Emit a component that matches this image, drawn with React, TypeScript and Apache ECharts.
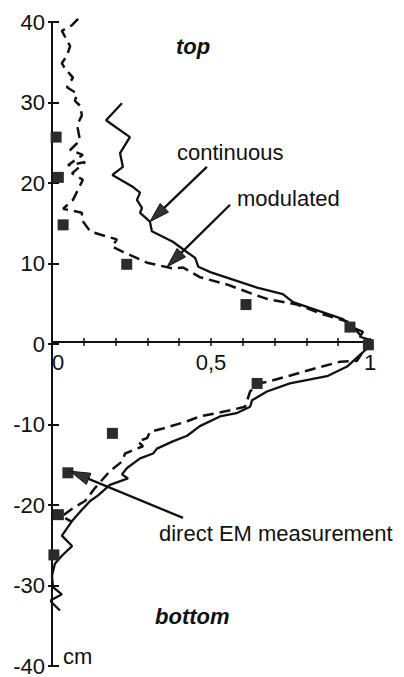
import React, { useEffect, useRef } from "react";
import * as echarts from "echarts";

// ---- data (x = relative value, y = position in cm) ----
const continuousTop: [number, number][] = [
  [0.22, 29.9], [0.17, 27.8], [0.245, 25.7], [0.214, 23.7], [0.223, 22.0], [0.19, 21.0],
  [0.255, 19.5], [0.277, 18.8], [0.267, 17.9], [0.283, 16.9], [0.277, 16.3], [0.308, 15.2],
  [0.314, 14.0], [0.38, 12.7], [0.425, 11.4], [0.45, 10.7], [0.46, 9.6], [0.5, 8.9],
  [0.645, 7.0], [0.726, 6.2], [0.758, 5.2], [0.915, 3.1], [0.937, 2.2], [0.978, 1.5],
  [0.968, 0.9], [1.01, 0.4], [1.0, -0.2],
];
const continuousBottom: [number, number][] = [
  [0.978, -1.0], [0.928, -2.8], [0.865, -4.0], [0.748, -4.9], [0.676, -5.9], [0.629, -7.0],
  [0.623, -7.8], [0.58, -8.6], [0.528, -9.0], [0.465, -10.2], [0.425, -11.4], [0.38, -12.1],
  [0.33, -13.0], [0.318, -13.6], [0.277, -14.2], [0.236, -15.4], [0.22, -16.2], [0.239, -16.7],
  [0.182, -17.5], [0.145, -18.8], [0.12, -19.5], [0.094, -20.6], [0.063, -22.0], [0.031, -23.8],
  [0.063, -25.1], [0.031, -26.3], [0.009, -27.3], [0.0, -28.8], [0.003, -30.2], [0.031, -31.1],
  [-0.006, -31.9], [0.025, -33.1],
];
const modulatedTop: [number, number][] = [
  [0.082, 40.4], [0.063, 39.6], [0.031, 38.9], [0.057, 37.0], [0.047, 35.8], [0.031, 34.9],
  [0.041, 34.2], [0.066, 33.1], [0.047, 31.9], [0.079, 31.1], [0.072, 30.2], [0.088, 29.6],
  [0.094, 28.4], [0.079, 27.2], [0.088, 25.3], [0.057, 24.1], [0.097, 23.5], [0.05, 22.2],
  [0.104, 22.6], [0.063, 21.2], [0.097, 20.4], [0.066, 17.9], [0.035, 16.8], [0.094, 16.3],
  [0.094, 15.4], [0.12, 14.0], [0.151, 13.6], [0.204, 13.0], [0.189, 12.1], [0.22, 11.5],
  [0.299, 10.1], [0.377, 9.4], [0.412, 9.5], [0.465, 8.3], [0.55, 7.4], [0.632, 6.2],
  [0.676, 5.6], [0.77, 4.9], [0.852, 3.7], [0.928, 2.8], [0.968, 1.2], [0.994, 0],
];
const modulatedBottom: [number, number][] = [
  [0.959, -2.1], [0.906, -2.2], [0.821, -3.1], [0.742, -4.0], [0.676, -4.7], [0.648, -4.9],
  [0.623, -5.9], [0.607, -7.8], [0.553, -8.3], [0.465, -9.0], [0.425, -9.6], [0.349, -10.5],
  [0.308, -10.9], [0.299, -11.7], [0.27, -12.1], [0.286, -12.7], [0.23, -13.6], [0.22, -14.6],
  [0.182, -15.8], [0.135, -17.9], [0.104, -19.5], [0.066, -20.4], [0.031, -21.4], [0.063, -22.1],
];
const directEM: [number, number][] = [
  [0.013, 25.7], [0.02, 20.7], [0.035, 14.8], [0.235, 9.9], [0.61, 4.9], [0.937, 2.1],
  [0.995, -0.1], [0.645, -4.9], [0.19, -11.1], [0.05, -16.0], [0.02, -21.2], [0.006, -26.2],
];

const xLabelValues = [0, 0.5, 1];
const xLabelTexts = ["0", "0,5", "1"];

// annotation arrows (from label to curve), in data coordinates
const arrowFrom: [number, number][] = [[0.487, 22.0], [0.56, 17.3], [0.412, -21.6]];
const arrowTo: [number, number][] = [[0.308, 15.2], [0.362, 9.6], [0.057, -15.8]];

const FONT = "'Liberation Sans', Arial, Helvetica, sans-serif";
const INK = "#111";

const GRID_TOP = 22;
const GRID_BOTTOM = 7;
const CHART_H = 677;
// x axis drawn through y = 0 (middle of the symmetric -40..40 range)
const X_AXIS_OFFSET = -(CHART_H - GRID_TOP - GRID_BOTTOM) / 2;

export default function App() {
  const ref = useRef<HTMLDivElement>(null);

  useEffect(() => {
    document.body.style.margin = "0";
    if (!ref.current) return;
    const chart = echarts.init(ref.current, null, { renderer: "svg" });

    const xFormatter = (v: number) => {
      for (let i = 0; i < xLabelValues.length; i++) {
        if (Math.abs(v - xLabelValues[i]) < 1e-9) return xLabelTexts[i];
      }
      return "";
    };

    const option: any = {
      animation: false,
      backgroundColor: "#fff",
      grid: { left: 52, right: 34, top: GRID_TOP, bottom: GRID_BOTTOM, containLabel: false },
      xAxis: [
        {
          type: "value", min: 0, max: 1, interval: 0.1, position: "bottom", offset: X_AXIS_OFFSET,
          axisLine: { show: true, onZero: false, lineStyle: { color: INK, width: 2 } },
          axisTick: { show: true, length: 4, lineStyle: { color: INK, width: 1.5 } },
          axisLabel: {
            margin: 9, fontSize: 22, fontFamily: FONT, color: INK,
            formatter: xFormatter, alignMinLabel: "left", showMinLabel: true, showMaxLabel: true,
          },
          splitLine: { show: false },
        },
        {
          type: "value", min: 0, max: 1, interval: 0.1, position: "bottom", offset: X_AXIS_OFFSET,
          axisLine: { show: false, onZero: false },
          axisTick: { show: true, inside: true, length: 4, lineStyle: { color: INK, width: 1.5 } },
          axisLabel: { show: false },
          splitLine: { show: false },
        },
      ],
      yAxis: [
        {
          type: "value", min: -40, max: 40, interval: 10, position: "left",
          axisLine: { show: true, onZero: false, lineStyle: { color: INK, width: 2 } },
          axisTick: { show: true, length: 4, lineStyle: { color: INK, width: 2 } },
          axisLabel: { margin: 7, fontSize: 22, fontFamily: FONT, color: INK },
          splitLine: { show: false },
        },
        {
          type: "value", min: -40, max: 40, interval: 10, position: "left",
          axisLine: { show: false, onZero: false },
          axisTick: { show: true, inside: true, length: 7, lineStyle: { color: INK, width: 2 } },
          axisLabel: { show: false },
          splitLine: { show: false },
        },
      ],
      series: [
        {
          name: "continuous", type: "line", xAxisIndex: 0, yAxisIndex: 0,
          data: continuousTop.concat(continuousBottom), showSymbol: false, symbol: "none",
          clip: false, lineStyle: { color: INK, width: 2.3, type: "solid" }, z: 3,
        },
        {
          name: "modulated", type: "line", xAxisIndex: 0, yAxisIndex: 0,
          data: modulatedTop.concat(modulatedBottom), showSymbol: false, symbol: "none",
          clip: false, lineStyle: { color: INK, width: 2.5, type: [11, 6] }, z: 3,
        },
        {
          name: "direct EM measurement", type: "scatter", xAxisIndex: 0, yAxisIndex: 0,
          data: directEM, symbol: "rect", symbolSize: 11, clip: false,
          itemStyle: { color: "#2b2b2b", opacity: 1 }, z: 5,
        },
      ],
    };
    chart.setOption(option);

    const graphics: any[] = [];
    const L = 20, W = 6;
    for (let i = 0; i < arrowFrom.length; i++) {
      const p0 = chart.convertToPixel({ gridIndex: 0 }, arrowFrom[i]) as number[];
      const p1 = chart.convertToPixel({ gridIndex: 0 }, arrowTo[i]) as number[];
      const dx = p1[0] - p0[0], dy = p1[1] - p0[1];
      const len = Math.sqrt(dx * dx + dy * dy);
      const ux = dx / len, uy = dy / len;
      const bx = p1[0] - ux * L, by = p1[1] - uy * L;
      graphics.push({
        type: "line", shape: { x1: p0[0], y1: p0[1], x2: bx + ux * 2, y2: by + uy * 2 },
        style: { stroke: INK, lineWidth: 2.3 }, z: 10,
      });
      graphics.push({
        type: "polygon",
        shape: { points: [[p1[0], p1[1]], [bx - uy * W, by + ux * W], [bx + uy * W, by - ux * W]] },
        style: { fill: "#333", stroke: INK, lineWidth: 1 }, z: 10,
      });
    }
    const texts: [string, number, number, boolean][] = [
      ["top", 176, 46, true],
      ["continuous", 177, 152, false],
      ["modulated", 237, 198, false],
      ["direct EM measurement", 159, 533, false],
      ["bottom", 155, 616, true],
      ["cm", 63, 656, false],
    ];
    texts.forEach(([t, x, y, b]) => {
      graphics.push({
        type: "text", x, y, z: 10,
        style: {
          text: t, fill: INK, fontSize: 22, fontFamily: FONT,
          fontWeight: b ? "bold" : "normal", fontStyle: b ? "italic" : "normal",
          textAlign: "left", textVerticalAlign: "middle",
        },
      });
    });
    chart.setOption({ graphic: graphics });

    return () => chart.dispose();
  }, []);

  return <div ref={ref} style={{ width: 404, height: 677 }} />;
}
